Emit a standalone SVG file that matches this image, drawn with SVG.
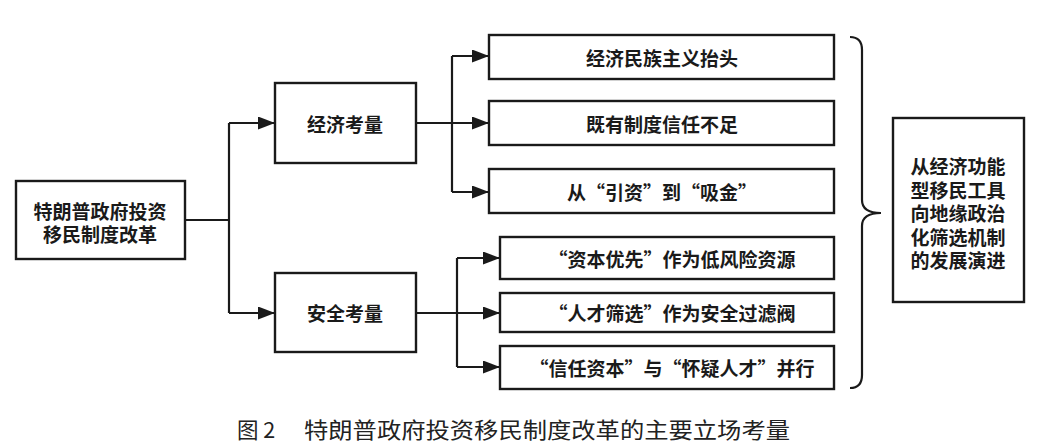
<svg xmlns="http://www.w3.org/2000/svg" width="1046" height="444" viewBox="0 0 1046 444">
<style>
.box{fill:#fff;stroke:#1a1a1a;stroke-width:2.4}
.t{font-family:"Noto Sans CJK SC","Noto Sans CJK JP",sans-serif;font-size:19px;fill:#1a1a1a;text-anchor:middle;dominant-baseline:central;font-weight:bold}
.ln{fill:none;stroke:#1a1a1a;stroke-width:2.2}
.cap{font-family:"Noto Sans CJK SC",sans-serif;font-size:21.5px;fill:#222;dominant-baseline:central}
</style>
<defs>
<marker id="ah" markerUnits="userSpaceOnUse" markerWidth="17" markerHeight="13" refX="17" refY="6.5" orient="auto">
<path d="M0,0 L17,6.5 L0,13 Z" fill="#1a1a1a"/>
</marker>
</defs>
<rect width="1046" height="444" fill="#fff"/>
<g id="connectors">
<path class="ln" d="M185,220 H229"/>
<path class="ln" d="M229,123 V313"/>
<path class="ln" d="M229,123 H275" marker-end="url(#ah)"/>
<path class="ln" d="M229,313 H275" marker-end="url(#ah)"/>
<path class="ln" d="M416,123 H452"/>
<path class="ln" d="M452,56 V192"/>
<path class="ln" d="M452,56 H489" marker-end="url(#ah)"/>
<path class="ln" d="M452,123 H489" marker-end="url(#ah)"/>
<path class="ln" d="M452,192 H489" marker-end="url(#ah)"/>
<path class="ln" d="M416,313 H457"/>
<path class="ln" d="M457,258 V367"/>
<path class="ln" d="M457,258 H500" marker-end="url(#ah)"/>
<path class="ln" d="M457,313 H500" marker-end="url(#ah)"/>
<path class="ln" d="M457,367 H500" marker-end="url(#ah)"/>
</g>
<g id="root"><rect class="box" x="16" y="181" width="169" height="78"/>
<text class="t"><tspan x="100" y="210">特朗普政府投资</tspan><tspan x="100" y="233">移民制度改革</tspan></text></g>
<g id="econ"><rect class="box" x="275" y="83" width="141" height="80"/><text class="t" x="345" y="123">经济考量</text></g>
<g id="sec"><rect class="box" x="275" y="273" width="141" height="79"/><text class="t" x="345" y="312">安全考量</text></g>
<g id="e1"><rect class="box" x="489" y="35" width="345" height="44"/><text class="t" x="662" y="57">经济民族主义抬头</text></g>
<g id="e2"><rect class="box" x="489" y="101" width="345" height="44"/><text class="t" x="662" y="123">既有制度信任不足</text></g>
<g id="e3"><rect class="box" x="489" y="169" width="345" height="44"/><text class="t" x="662" y="191">从“引资”到“吸金”</text></g>
<g id="s1"><rect class="box" x="500" y="237" width="334" height="42"/><text class="t" x="672" y="258">“资本优先”作为低风险资源</text></g>
<g id="s2"><rect class="box" x="500" y="293" width="334" height="39"/><text class="t" x="672" y="312">“人才筛选”作为安全过滤阀</text></g>
<g id="s3"><rect class="box" x="500" y="346" width="334" height="43"/><text class="t" x="672" y="367">“信任资本”与“怀疑人才”并行</text></g>
<g id="brace"><path class="ln" d="M850,37 Q862,37 862,50 V200 Q862,213 881,213 Q862,213 862,226 V375 Q862,388 850,388"/></g>
<g id="result"><rect class="box" x="893" y="118" width="131" height="184"/>
<text class="t"><tspan x="958" y="165">从经济功能</tspan><tspan x="958" y="188.5">型移民工具</tspan><tspan x="958" y="212">向地缘政治</tspan><tspan x="958" y="235.5">化筛选机制</tspan><tspan x="958" y="259">的发展演进</tspan></text></g>
<g id="caption"><text class="cap" x="237" y="428">图 2</text><text class="cap" x="304" y="428" textLength="486" lengthAdjust="spacingAndGlyphs">特朗普政府投资移民制度改革的主要立场考量</text></g>
</svg>
